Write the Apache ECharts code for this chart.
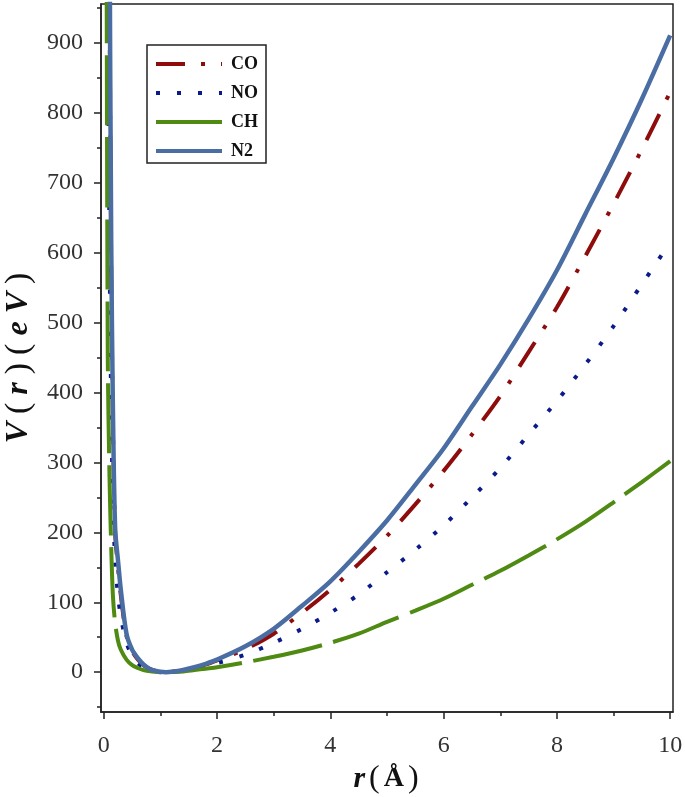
<!DOCTYPE html>
<html>
<head>
<meta charset="utf-8">
<script src="https://cdn.jsdelivr.net/npm/echarts@6/dist/echarts.min.js"></script>
<style>html,body{margin:0;padding:0;background:#fff}#c{width:685px;height:797px}</style>
</head>
<body>
<div id="c"></div>
<script>
// r values (Å)
const rVals = [0.05, 0.07, 0.1, 0.13, 0.16, 0.2, 0.25, 0.3, 0.4, 0.5, 0.6, 0.7, 0.8, 0.9, 1.0, 1.1, 1.2, 1.4, 1.6, 1.8, 2.0, 2.5, 3.0, 3.5, 4.0, 4.5, 5.0, 5.5, 6.0, 6.5, 7.0, 7.5, 8.0, 8.5, 9.0, 9.5, 10.0];
// V(r) in eV
const vCO = [3000, 2000, 1000, 580, 360, 200, 150, 110, 52, 30, 18, 10, 5, 2, 0.5, 0, 0.5, 3, 6, 11, 17, 33, 55, 85, 118, 155, 195, 240, 288, 340, 395, 458, 522, 595, 670, 748, 830];
const vNO = [2500, 1000, 620, 380, 250, 160, 110, 80, 42, 24, 13, 7, 3, 1, 0, 0, 0.3, 2, 5, 9, 13, 25, 42, 62, 85, 111, 143, 175, 210, 250, 292, 340, 388, 440, 495, 555, 615];
const vCH = [1000, 450, 280, 180, 110, 70, 45, 32, 18, 10, 6, 3, 1.5, 0.5, 0, 0, 0.2, 1, 3, 5, 7, 14, 22, 31, 42, 55, 72, 88, 105, 125, 145, 167, 190, 215, 243, 272, 302];
const vN2 = [3000, 2000, 1100, 620, 380, 205, 160, 118, 55, 32, 20, 11, 5, 2, 0.5, 0, 0.5, 3, 7, 12, 18, 37, 62, 95, 130, 172, 217, 268, 320, 380, 440, 505, 575, 655, 735, 820, 911];
const seriesNames = ['CO', 'NO', 'CH', 'N2'];
const yLabels = [0, 100, 200, 300, 400, 500, 600, 700, 800, 900];
const yMinor = [-50, 50, 150, 250, 350, 450, 550, 650, 750, 850, 950];
const xLabels = [0, 2, 4, 6, 8, 10];
const xMinor = [1, 3, 5, 7, 9];

const pair = v => rVals.map((r, i) => [r, v[i]]);
const serif = '"Liberation Serif","DejaVu Serif",serif';
const axisCol = '#222';
const yMin = -57, yMax = 956, xMin = -0.05, xMax = 10.05;

const chart = echarts.init(document.getElementById('c'), null, {renderer: 'canvas'});
chart.setOption({
  animation: false,
  backgroundColor: '#fff',
  grid: {left: 101, top: 4, width: 572, height: 708, containLabel: false, outerBoundsMode: 'none',
         show: true, borderColor: '#222', borderWidth: 1.5, backgroundColor: 'transparent'},
  legend: {
    orient: 'vertical', left: 147, top: 45,
    data: seriesNames,
    itemWidth: 66, itemHeight: 14, itemGap: 11,
    padding: [10, 8, 3, 7],
    borderColor: '#222', borderWidth: 1.5,
    itemStyle: {opacity: 0},
    lineStyle: {width: 4},
    textStyle: {fontFamily: serif, fontWeight: 'bold', fontSize: 18, color: '#111', padding: [0, 0, 0, 4]}
  },
  xAxis: [{
    type: 'value', min: xMin, max: xMax, position: 'bottom',
    axisLine: {onZero: false, lineStyle: {color: axisCol, width: 1.5}},
    axisTick: {customValues: xLabels, length: 7, lineStyle: {color: axisCol, width: 1.5}},
    axisLabel: {customValues: xLabels, fontFamily: serif, fontSize: 24, color: '#333', margin: 22},
    splitLine: {show: false},
    name: '{i|r}{n|(}{b|Å}{n|)}', nameLocation: 'middle', nameGap: 46,
    nameTextStyle: {rich: {
      i: {fontFamily: serif, fontStyle: 'italic', fontWeight: 'bold', fontSize: 30, color: '#111', padding: [0, 2, 0, 0]},
      n: {fontFamily: serif, fontSize: 32, color: '#111', padding: [0, 2]},
      b: {fontFamily: serif, fontWeight: 'bold', fontSize: 28, color: '#111', padding: [0, 2]}
    }}
  }, {
    type: 'value', min: xMin, max: xMax, position: 'bottom',
    axisLine: {show: false, onZero: false},
    axisTick: {customValues: xMinor, length: 4, lineStyle: {color: axisCol, width: 1.5}},
    axisLabel: {show: false},
    splitLine: {show: false}
  }],
  yAxis: [{
    type: 'value', min: yMin, max: yMax, position: 'left',
    axisLine: {show: true, onZero: false, lineStyle: {color: axisCol, width: 1.5}},
    axisTick: {show: true, customValues: yLabels, length: 7, lineStyle: {color: axisCol, width: 1.5}},
    axisLabel: {customValues: yLabels, fontFamily: serif, fontSize: 24, color: '#333', margin: 18},
    splitLine: {show: false},
    name: '{i|V}{n|(}{i|r}{n|)}{n|(}{i|e}{i|V}{n|)}', nameLocation: 'middle', nameGap: 63, nameRotate: 90,
    nameTextStyle: {rich: {
      i: {fontFamily: serif, fontStyle: 'italic', fontWeight: 'bold', fontSize: 32, color: '#111', padding: [0, 4]},
      n: {fontFamily: serif, fontSize: 34, color: '#111', padding: [0, 4]}
    }}
  }, {
    type: 'value', min: yMin, max: yMax, position: 'left',
    axisLine: {show: false, onZero: false},
    axisTick: {show: true, customValues: yMinor, length: 4, lineStyle: {color: axisCol, width: 1.5}},
    axisLabel: {show: false},
    splitLine: {show: false}
  }],
  series: [
    {name: 'CO', type: 'line', data: pair(vCO), showSymbol: false, symbol: 'none', smooth: 0.3, clip: true,
     lineStyle: {color: '#8f0c0c', width: 4, type: [29, 16, 4, 16], cap: 'butt'}, itemStyle: {color: '#8f0c0c'}},
    {name: 'NO', type: 'line', data: pair(vNO), showSymbol: false, symbol: 'none', smooth: 0.3, clip: true,
     lineStyle: {color: '#0b1a8a', width: 4, type: [4, 17], cap: 'butt'}, itemStyle: {color: '#0b1a8a'}},
    {name: 'CH', type: 'line', data: pair(vCH), showSymbol: false, symbol: 'none', smooth: 0.3, clip: true,
     lineStyle: {color: '#4f8a12', width: 4, type: [70, 12], cap: 'butt'}, itemStyle: {color: '#4f8a12'}},
    {name: 'N2', type: 'line', data: pair(vN2), showSymbol: false, symbol: 'none', smooth: 0.3, clip: true,
     lineStyle: {color: '#4a6ea3', width: 4.5, type: 'solid'}, itemStyle: {color: '#4a6ea3'}}
  ]
});
</script>
</body>
</html>
